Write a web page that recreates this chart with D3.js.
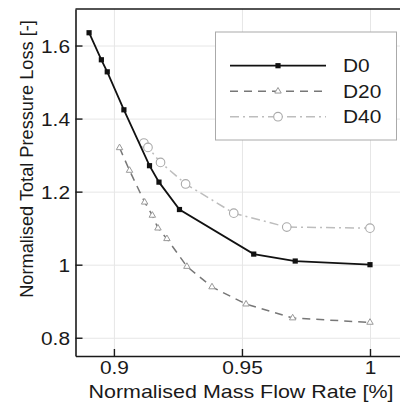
<!DOCTYPE html>
<html>
<head>
<meta charset="utf-8">
<script src="https://cdn.jsdelivr.net/npm/d3@7"></script>
<style>
  body { margin: 0; background: #fff; }
  svg { display: block; font-family: "Liberation Sans", Arial, sans-serif; }
</style>
</head>
<body>
<div id="chart"></div>
<script>
// Series: [mass flow rate, pressure loss]
const seriesNames = ["D0", "D20", "D40"];
const d0 = [[0.8903, 1.635], [0.8951, 1.561], [0.8974, 1.528], [0.9039, 1.424], [0.9139, 1.271],
            [0.9176, 1.226], [0.9256, 1.151], [0.9546, 1.029], [0.9708, 1.010], [1.0, 1.000]];
const d20 = [[0.9022, 1.320], [0.9061, 1.258], [0.9120, 1.171], [0.9150, 1.135], [0.9172, 1.100],
             [0.9207, 1.071], [0.9285, 0.995], [0.9383, 0.939], [0.9516, 0.892], [0.9698, 0.854], [1.0, 0.842]];
const d40 = [[0.9117, 1.333], [0.9133, 1.321], [0.9182, 1.280], [0.9280, 1.221], [0.9468, 1.141],
             [0.9675, 1.103], [1.0, 1.100]];
const xTicks = [0.9, 0.95, 1];
const yTicks = [0.8, 1, 1.2, 1.4, 1.6];
const xTitle = "Normalised Mass Flow Rate [%]";
const yTitle = "Normalised Total Pressure Loss [-]";

const width = 400, height = 404;
const plotLeft = 75.5, plotRight = 402, plotTop = 9, plotBottom = 356;
const sx = 1.16; // horizontal text stretch seen in the reference

const svg = d3.select("#chart").append("svg")
    .attr("width", width)
    .attr("height", height);

const x = d3.scaleLinear().domain([0.885, 1.0125]).range([plotLeft, plotRight]);
const y = d3.scaleLinear().domain([0.75, 1.7]).range([plotBottom, plotTop]);

// grid
svg.append("g")
    .attr("transform", `translate(0,${plotBottom})`)
    .call(d3.axisBottom(x).tickValues(xTicks).tickSize(-(plotBottom - plotTop)).tickFormat(""))
    .call(g => g.select(".domain").remove())
    .call(g => g.selectAll("line").attr("stroke", "#e6e6e6").attr("stroke-width", 1));
svg.append("g")
    .attr("transform", `translate(${plotLeft},0)`)
    .call(d3.axisLeft(y).tickValues(yTicks).tickSize(-(plotRight - plotLeft)).tickFormat(""))
    .call(g => g.select(".domain").remove())
    .call(g => g.selectAll("line").attr("stroke", "#e6e6e6").attr("stroke-width", 1));

// series
const series = [
    { name: "D0", data: d0, color: "#111", width: 1.8, dash: null, marker: "square" },
    { name: "D20", data: d20, color: "#777", width: 1.5, dash: "8,6", marker: "triangle" },
    { name: "D40", data: d40, color: "#bdbdbd", width: 1.5, dash: "9,4,2,4", marker: "circle" }
];

const line = d3.line().x(d => x(d[0])).y(d => y(d[1]));

function drawMarker(g, kind, cx, cy, color) {
    if (kind === "square") {
        g.append("rect").attr("x", cx - 2.6).attr("y", cy - 2.6)
            .attr("width", 5.2).attr("height", 5.2).attr("fill", color);
    } else if (kind === "triangle") {
        g.append("path")
            .attr("d", d3.symbol(d3.symbolTriangle, 18)())
            .attr("transform", `translate(${cx},${cy})`)
            .attr("fill", "#fff").attr("stroke", "#999").attr("stroke-width", 1);
    } else {
        g.append("circle").attr("cx", cx).attr("cy", cy).attr("r", 4.3)
            .attr("fill", "#fff").attr("stroke", "#aaa").attr("stroke-width", 1.1);
    }
}

series.slice().reverse().forEach(s => {
    svg.append("path")
        .datum(s.data)
        .attr("d", line)
        .attr("fill", "none")
        .attr("stroke", s.color)
        .attr("stroke-width", s.width)
        .attr("stroke-dasharray", s.dash);
    const mg = svg.append("g");
    s.data.forEach(d => drawMarker(mg, s.marker, x(d[0]), y(d[1]), s.color));
});

// axes
svg.append("g")
    .attr("transform", `translate(0,${plotBottom})`)
    .call(d3.axisBottom(x).tickValues(xTicks).tickSizeInner(-7).tickSizeOuter(0).tickPadding(0).tickFormat(d => String(d)))
    .call(g => g.select(".domain").attr("stroke", "#1a1a1a").attr("stroke-width", 1.6))
    .call(g => g.selectAll("line").attr("stroke", "#1a1a1a").attr("stroke-width", 1.4))
    .call(g => g.selectAll("text")
        .attr("y", 18.5).attr("dy", null)
        .attr("font-size", 18).attr("fill", "#1a1a1a")
        .attr("transform", `scale(${sx},1)`));

svg.append("g")
    .attr("transform", `translate(${plotLeft},0)`)
    .call(d3.axisLeft(y).tickValues(yTicks).tickSizeInner(-7).tickSizeOuter(0).tickPadding(0).tickFormat(d => String(d)))
    .call(g => g.select(".domain").attr("stroke", "#1a1a1a").attr("stroke-width", 1.6))
    .call(g => g.selectAll("line").attr("stroke", "#1a1a1a").attr("stroke-width", 1.4))
    .call(g => g.selectAll("text")
        .attr("x", -5.5 / sx).attr("dy", "0.36em")
        .attr("font-size", 18).attr("fill", "#1a1a1a")
        .attr("transform", `scale(${sx},1)`));

// top frame line
svg.append("line")
    .attr("x1", plotLeft).attr("x2", width)
    .attr("y1", plotTop).attr("y2", plotTop)
    .attr("stroke", "#1a1a1a").attr("stroke-width", 1.6);

// titles
svg.append("text")
    .attr("transform", `translate(241,398) scale(${sx},1)`)
    .attr("text-anchor", "middle")
    .attr("font-size", 18.5).attr("fill", "#1a1a1a")
    .text(xTitle);
svg.append("text")
    .attr("transform", "translate(33,159) rotate(-90)")
    .attr("text-anchor", "middle")
    .attr("font-size", 18.2).attr("fill", "#1a1a1a")
    .text(yTitle);

// legend
const lg = svg.append("g");
lg.append("rect")
    .attr("x", 215.5).attr("y", 32)
    .attr("width", 181).attr("height", 108)
    .attr("fill", "#fff").attr("stroke", "#aaa").attr("stroke-width", 1);
const legendY = d3.scalePoint().domain(seriesNames).range([65.7, 116.7]);
series.forEach(s => {
    const ly = legendY(s.name);
    lg.append("line")
        .attr("x1", 230).attr("x2", 326)
        .attr("y1", ly).attr("y2", ly)
        .attr("stroke", s.color).attr("stroke-width", s.width)
        .attr("stroke-dasharray", s.dash);
    drawMarker(lg, s.marker, 278, ly, s.color);
    lg.append("text")
        .attr("transform", `translate(343,${ly + 6.5}) scale(${sx},1)`)
        .attr("font-size", 18).attr("fill", "#1a1a1a")
        .text(s.name);
});
</script>
</body>
</html>
